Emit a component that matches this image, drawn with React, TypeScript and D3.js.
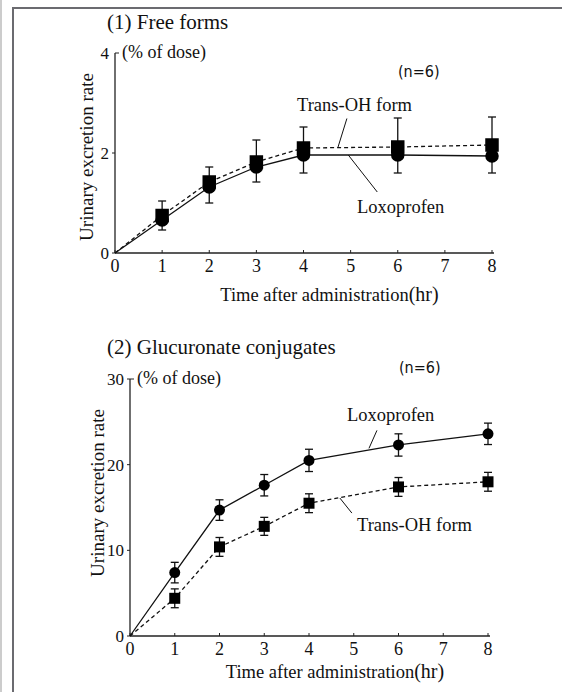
import * as d3 from "d3";

const W = 562;
const H = 692;
const serif = "'Liberation Serif', 'Times New Roman', serif";

// sampling times (hr)
const hours = [1, 2, 3, 4, 6, 8];
const xTicks = [0, 1, 2, 3, 4, 5, 6, 7, 8];

// (1) free forms, % of dose
const freeLox = [0.66, 1.32, 1.72, 1.96, 1.96, 1.94];
const freeLoxErr = [0.2, 0.32, 0.3, 0.36, 0.36, 0.34];
const freeTrans = [0.75, 1.42, 1.82, 2.1, 2.12, 2.16];
const freeTransErr = [0.29, 0.3, 0.44, 0.42, 0.58, 0.56];
const freeYTicks = [0, 2, 4];

// (2) glucuronate conjugates, % of dose
const conjLox = [7.4, 14.7, 17.6, 20.5, 22.3, 23.6];
const conjLoxErr = [1.2, 1.2, 1.25, 1.3, 1.3, 1.25];
const conjTrans = [4.4, 10.4, 12.8, 15.5, 17.4, 18.0];
const conjTransErr = [1.1, 1.1, 1.05, 1.1, 1.1, 1.1];
const conjYTicks = [0, 10, 20, 30];

type Series = { values: number[]; err: number[]; shape: "circle" | "square"; dashed: boolean; errDir: "up" | "down" | "both" };
type Label = { text: string; tx: number; ty: number; px: number; py: number; dx: number; dy: number };

type PanelProps = {
  title: string;
  titleY: number;
  x0: number; x1: number; y0: number; y1: number;
  yMax: number;
  yTicks: number[];
  series: Series[];
  labels: Label[];
  marker: number;
  nPos: [number, number];
  yTitle: [number, number];
  xTitleY: number;
  topTickBoth: boolean;
};

const Panel = (p: PanelProps) => {
  const x = d3.scaleLinear().domain([0, 8]).range([p.x0, p.x1]);
  const y = d3.scaleLinear().domain([0, p.yMax]).range([p.y0, p.y1]);
  const line = d3.line<[number, number]>().x(d => x(d[0])).y(d => y(d[1]));
  const cap = 4;
  return (
    <g fontFamily={serif} fill="#111">
      <text x={107} y={p.titleY} fontSize={21}>{p.title}</text>
      {/* axes */}
      <line x1={p.x0} x2={p.x1 + 2} y1={p.y0} y2={p.y0} stroke="#222" strokeWidth={1.3} />
      <line x1={p.x0} x2={p.x0} y1={p.y0} y2={p.y1} stroke="#222" strokeWidth={1.3} />
      {xTicks.map(t => (
        <g key={t}>
          <line x1={x(t)} x2={x(t)} y1={p.y0} y2={p.y0 - 3} stroke="#222" strokeWidth={1} />
          <text x={x(t)} y={p.y0 + 19} fontSize={18} textAnchor="middle">{t}</text>
        </g>
      ))}
      {p.yTicks.map(t => {
        const isTop = t === p.yMax;
        return (
          <g key={t}>
            <line x1={isTop && !p.topTickBoth ? p.x0 : p.x0 - 3} x2={p.x0 + (isTop ? 4 : 0)} y1={y(t)} y2={y(t)} stroke="#222" strokeWidth={1} />
            <text x={p.x0 - 6} y={y(t) + 6} fontSize={17} textAnchor="end">{t}</text>
          </g>
        );
      })}
      <text x={p.x0 + 7} y={y(p.yMax) + 5} fontSize={18}>(% of  dose)</text>
      <text x={p.nPos[0]} y={p.nPos[1]} fontSize={16} fontFamily="'DejaVu Sans Condensed', 'DejaVu Sans', sans-serif" fontWeight={300}>(n=6)</text>
      <text transform={`translate(${p.yTitle[0]},${p.yTitle[1]}) rotate(-90)`} fontSize={19} textAnchor="middle">Urinary excretion rate</text>
      <text x={(p.x0 + p.x1) / 2 + 26} y={p.xTitleY} fontSize={18.5} textAnchor="middle">
        Time after administration<tspan fontSize={20}>(hr)</tspan>
      </text>
      {/* series */}
      {p.series.map((s, si) => {
        const pts: [number, number][] = [[0, 0], ...hours.map((h, i) => [h, s.values[i]] as [number, number])];
        return (
          <g key={si}>
            <path d={line(pts) ?? ""} fill="none" stroke="#111" strokeWidth={1.3} strokeDasharray={s.dashed ? "4,3" : undefined} />
            {hours.map((h, i) => {
              const cx = x(h);
              const v = s.values[i];
              const top = s.errDir === "down" ? v : v + s.err[i];
              const bot = s.errDir === "up" ? v : v - s.err[i];
              return (
                <g key={h} stroke="#111" strokeWidth={1.3}>
                  <line x1={cx} x2={cx} y1={y(top)} y2={y(bot)} />
                  {s.errDir !== "down" && <line x1={cx - cap} x2={cx + cap} y1={y(top)} y2={y(top)} />}
                  {s.errDir !== "up" && <line x1={cx - cap} x2={cx + cap} y1={y(bot)} y2={y(bot)} />}
                  {s.shape === "circle" ? (
                    <circle cx={cx} cy={y(v)} r={p.marker / 2} fill="#000" stroke="none" />
                  ) : (
                    <rect x={cx - p.marker / 2} y={y(v) - p.marker / 2} width={p.marker} height={p.marker} fill="#000" stroke="none" />
                  )}
                </g>
              );
            })}
          </g>
        );
      })}
      {p.labels.map(l => (
        <g key={l.text}>
          <line x1={x(l.px)} y1={y(l.py)} x2={x(l.px) + l.dx} y2={y(l.py) + l.dy} stroke="#111" strokeWidth={1} />
          <text x={l.tx} y={l.ty} fontSize={18.5}>{l.text}</text>
        </g>
      ))}
    </g>
  );
};

export default function App() {
  return (
    <svg width={W} height={H} style={{ position: "absolute", left: 0, top: 0, background: "#fff" }}>
      <line x1={1} x2={1} y1={0} y2={H} stroke="#999" strokeWidth={1} />
      <path d={`M13,${H} V8 H${W}`} fill="none" stroke="#6b6b70" strokeWidth={2} />
      <Panel
        title="(1)  Free forms"
        titleY={29}
        x0={115} x1={492} y0={253} y1={53}
        yMax={4}
        yTicks={freeYTicks}
        marker={13.5}
        nPos={[398, 77]}
        yTitle={[93, 157]}
        xTitleY={301}
        topTickBoth={false}
        series={[
          { values: freeTrans, err: freeTransErr, shape: "square", dashed: true, errDir: "up" },
          { values: freeLox, err: freeLoxErr, shape: "circle", dashed: false, errDir: "down" },
        ]}
        labels={[
          { text: "Trans-OH form", tx: 297, ty: 111, px: 4.73, py: 2.11, dx: 9, dy: -29 },
          { text: "Loxoprofen", tx: 357, ty: 213, px: 4.95, py: 1.96, dx: 29, dy: 37 },
        ]}
      />
      <Panel
        title="(2)  Glucuronate conjugates"
        titleY={354}
        x0={130} x1={488} y0={636} y1={379}
        yMax={30}
        yTicks={conjYTicks}
        marker={11}
        nPos={[399, 373]}
        yTitle={[104, 493]}
        xTitleY={678}
        topTickBoth={true}
        series={[
          { values: conjLox, err: conjLoxErr, shape: "circle", dashed: false, errDir: "both" },
          { values: conjTrans, err: conjTransErr, shape: "square", dashed: true, errDir: "both" },
        ]}
        labels={[
          { text: "Loxoprofen", tx: 347, ty: 421, px: 5.34, py: 21.9, dx: 8, dy: -18 },
          { text: "Trans-OH form", tx: 357, ty: 531, px: 4.69, py: 16.1, dx: 12, dy: 15 },
        ]}
      />
    </svg>
  );
}
